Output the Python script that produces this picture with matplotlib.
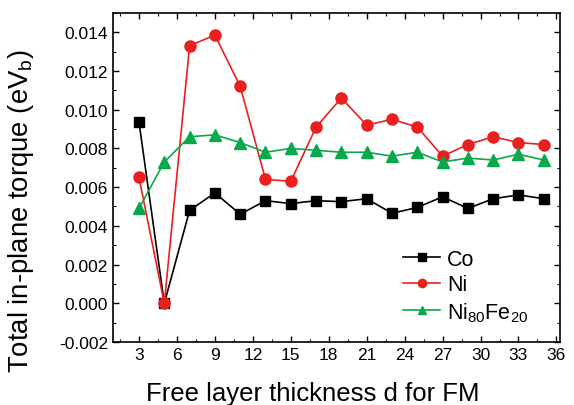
import numpy as np
import matplotlib
matplotlib.use("Agg")
import matplotlib.pyplot as plt
from matplotlib.ticker import MultipleLocator, FormatStrFormatter

plt.rcParams["font.family"] = ["Liberation Sans", "DejaVu Sans"]
plt.rcParams["mathtext.fontset"] = "custom"
plt.rcParams["mathtext.rm"] = "Liberation Sans"

# ── Data ──────────────────────────────────────────────────────────────────────
thickness = [3, 5, 7, 9, 11, 13, 15, 17, 19, 21, 23, 25, 27, 29, 31, 33, 35]
co   = [0.00935, 0.0, 0.0048, 0.0057, 0.0046, 0.0053, 0.00515, 0.0053, 0.00525,
        0.0054, 0.00465, 0.00495, 0.0055, 0.0049, 0.0054, 0.0056, 0.0054]
ni   = [0.0065, 0.0, 0.0133, 0.01385, 0.0112, 0.0064, 0.0063, 0.0091, 0.0106,
        0.0092, 0.0095, 0.0091, 0.0076, 0.0082, 0.0086, 0.0083, 0.0082]
nife = [0.0049, 0.0073, 0.0086, 0.0087, 0.0083, 0.0078, 0.0080, 0.0079, 0.0078,
        0.0078, 0.0076, 0.0078, 0.0073, 0.0075, 0.0074, 0.0077, 0.0074]

# ── Figure ────────────────────────────────────────────────────────────────────
fig = plt.figure(figsize=(5.74, 4.06), dpi=100)
ax = fig.add_axes([0.197, 0.155, 0.779, 0.811])

ax.plot(thickness, co, color="black", marker="s", markersize=7, lw=1.2, label="Co")
ax.plot(thickness, ni, color="#e8201f", marker="o", markersize=8, lw=1.2, label="Ni")
ax.plot(thickness, nife, color="#0aa84a", marker="^", markersize=8, lw=1.2,
        label=r"Ni$_{80}$Fe$_{20}$")

ax.set_xlim(0.95, 36.3)
ax.set_ylim(-0.002, 0.015)
ax.xaxis.set_major_locator(MultipleLocator(3))
ax.xaxis.set_minor_locator(MultipleLocator(1.5))
ax.yaxis.set_major_locator(MultipleLocator(0.002))
ax.yaxis.set_minor_locator(MultipleLocator(0.001))
ax.yaxis.set_major_formatter(FormatStrFormatter("%.3f"))

ax.tick_params(which="both", direction="in", top=True, right=True, labelsize=12.5)
ax.tick_params(which="major", length=4, width=1)
ax.tick_params(which="minor", length=2.5, width=0.8)
for sp in ax.spines.values():
    sp.set_linewidth(1.2)

ax.set_xlabel("Free layer thickness d for FM", fontsize=18.5)
ax.xaxis.set_label_coords(0.447, -0.117)
ax.set_ylabel(r"Total in-plane torque (eV$_{\rm b}$)", fontsize=19.8)
ax.yaxis.set_label_coords(-0.172, 0.40)

ax.legend(loc="lower right", bbox_to_anchor=(0.948, 0.03), borderaxespad=0,
          frameon=False, fontsize=15.5, markerscale=0.75,
          handlelength=1.75, handletextpad=0.3, labelspacing=0.22)

fig.savefig("out.png", dpi=100)
